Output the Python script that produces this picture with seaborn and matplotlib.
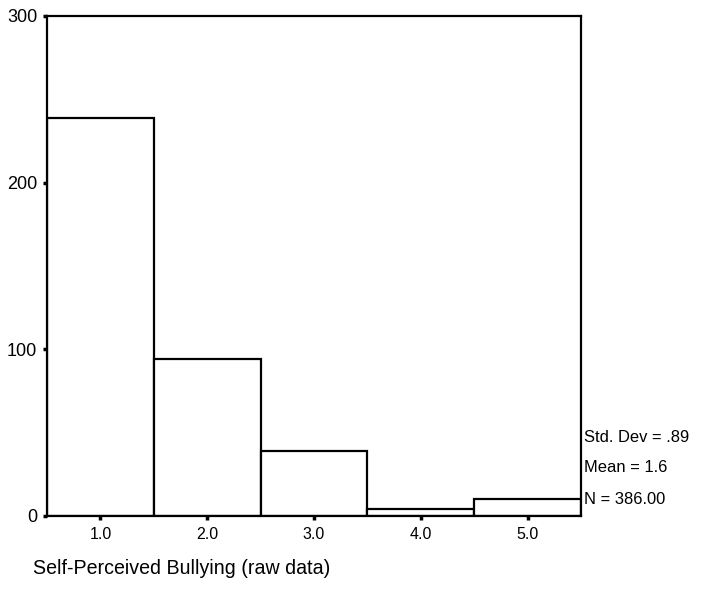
import matplotlib
matplotlib.use("Agg")
import matplotlib.pyplot as plt
import seaborn as sns
import pandas as pd

# Data
categories = [1.0, 2.0, 3.0, 4.0, 5.0]
counts = [239, 94, 39, 4, 10]
xtick_labels = ["1.0", "2.0", "3.0", "4.0", "5.0"]
yticks = [0, 100, 200, 300]
stats_lines = ["Std. Dev = .89", "Mean = 1.6", "N = 386.00"]
xlabel = "Self-Perceived Bullying (raw data)"

sns.set_style("ticks")
plt.rcParams["font.family"] = ["Liberation Sans", "DejaVu Sans"]
plt.rcParams["text.color"] = "black"
plt.rcParams["xtick.labelcolor"] = "black"
plt.rcParams["ytick.labelcolor"] = "black"

df = pd.DataFrame({"value": categories, "count": counts})

fig = plt.figure(figsize=(7.06, 6.07), dpi=100)
ax = fig.add_axes([47 / 706, 91 / 607, 534 / 706, 500 / 607])

sns.histplot(data=df, x="value", weights="count", discrete=True,
             color="white", edgecolor="black", linewidth=1.6, alpha=1,
             ax=ax)

ax.set_xlim(0.5, 5.5)
ax.set_ylim(0, 300)
ax.set_yticks(yticks)
ax.set_yticklabels([str(v) for v in yticks], fontsize=13)
ax.set_xticks(categories)
ax.set_xticklabels(xtick_labels, fontsize=11.5)
ax.tick_params(axis="both", direction="out", length=3, width=2.5, color="black",
               labelcolor="black")
ax.tick_params(axis="x", pad=5)
ax.tick_params(axis="y", pad=4)
ax.set_xlabel("")
ax.set_ylabel("")
for s in ax.spines.values():
    s.set_visible(True)
    s.set_color("black")
    s.set_linewidth(1.6)

# stats text
ys = [438, 468, 499]
for t, yp in zip(stats_lines, ys):
    fig.text(584 / 706, 1 - yp / 607, t, fontsize=11.9, ha="left", va="center",
             color="black")

fig.text(33 / 706, 1 - 568 / 607, xlabel, fontsize=14.1, ha="left", va="center",
         color="black")

fig.savefig("out.png", dpi=100, facecolor="white")
